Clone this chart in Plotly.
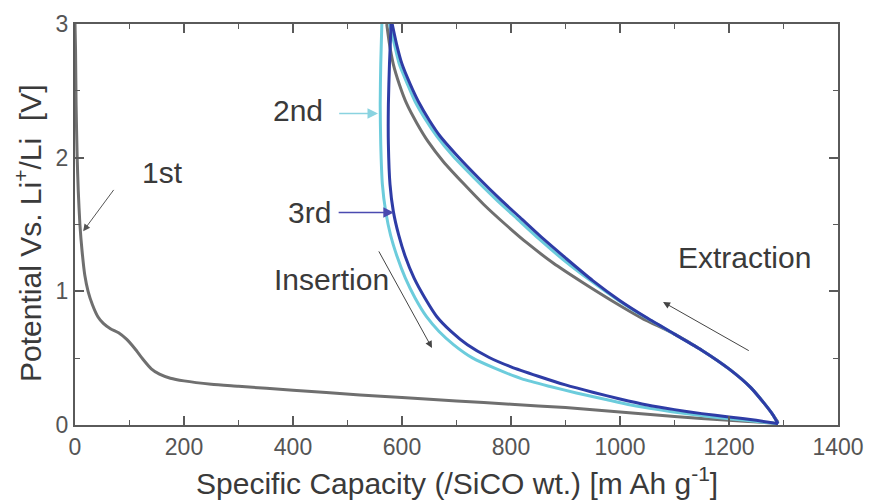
import plotly.graph_objects as go

# 1st cycle (gray)
ins1_x = [0, 1, 2, 4, 6, 9, 13, 18, 24, 32, 42, 52, 65, 80, 95, 110, 125, 140, 155, 175, 200, 250, 300, 400, 523, 600, 700, 800, 900, 1000, 1100, 1200, 1260, 1290]
ins1_y = [3.0, 2.8, 2.4, 2.0, 1.75, 1.5, 1.3, 1.12, 1.0, 0.9, 0.81, 0.76, 0.72, 0.69, 0.64, 0.57, 0.49, 0.42, 0.38, 0.35, 0.33, 0.305, 0.29, 0.26, 0.225, 0.205, 0.18, 0.155, 0.13, 0.097, 0.063, 0.035, 0.02, 0.01]
ext1_x = [1290, 1280, 1265, 1240, 1200, 1150, 1100, 1040, 985, 930, 878, 830, 790, 750, 712, 676, 648, 627, 609, 595, 584, 577, 572]
ext1_y = [0.02, 0.08, 0.16, 0.28, 0.42, 0.56, 0.68, 0.80, 0.93, 1.07, 1.21, 1.36, 1.50, 1.65, 1.81, 1.97, 2.12, 2.26, 2.40, 2.55, 2.70, 2.85, 3.0]

# 2nd cycle (cyan)
ins2_x = [563, 561, 560, 561, 564, 570, 579, 591, 606, 624, 645, 668, 695, 730, 770, 820, 870, 920, 970, 1020, 1070, 1120, 1170, 1230, 1290]
ins2_y = [3.0, 2.7, 2.4, 2.1, 1.8, 1.6, 1.42, 1.26, 1.1, 0.95, 0.81, 0.70, 0.60, 0.50, 0.425, 0.345, 0.29, 0.24, 0.195, 0.15, 0.115, 0.085, 0.06, 0.035, 0.01]
ext2_x = [1290, 1280, 1265, 1240, 1200, 1150, 1100, 1049, 998, 946, 895, 852, 812, 772, 732, 694, 664, 644, 624, 610, 595, 586, 577]
ext2_y = [0.01, 0.08, 0.16, 0.28, 0.42, 0.56, 0.68, 0.80, 0.93, 1.08, 1.24, 1.39, 1.54, 1.69, 1.85, 2.01, 2.16, 2.28, 2.42, 2.55, 2.70, 2.85, 3.0]

# 3rd cycle (blue)
ins3_x = [580, 577, 575, 575, 578, 584, 594, 606, 622, 642, 664, 690, 720, 760, 800, 850, 900, 950, 1000, 1050, 1100, 1150, 1200, 1250, 1290]
ins3_y = [3.0, 2.7, 2.4, 2.1, 1.8, 1.6, 1.42, 1.26, 1.1, 0.95, 0.81, 0.70, 0.60, 0.505, 0.435, 0.365, 0.30, 0.245, 0.195, 0.15, 0.115, 0.085, 0.06, 0.035, 0.01]
ext3_x = [1290, 1280, 1265, 1240, 1200, 1150, 1100, 1050, 1000, 950, 900, 860, 820, 780, 740, 700, 670, 650, 630, 615, 600, 590, 582]
ext3_y = [0.01, 0.08, 0.16, 0.28, 0.42, 0.56, 0.68, 0.80, 0.93, 1.08, 1.25, 1.39, 1.54, 1.69, 1.85, 2.02, 2.16, 2.28, 2.42, 2.55, 2.70, 2.85, 3.0]

x_ticks = [0, 200, 400, 600, 800, 1000, 1200, 1400]
y_ticks = [0, 1, 2, 3]

GRAY = "#6f6f6f"
CYAN = "#6cccdc"
BLUE = "#2e3ca6"
FONT = "Liberation Sans, Arial, sans-serif"

fig = go.Figure()
for xs, ys, c in [(ins1_x, ins1_y, GRAY), (ext1_x, ext1_y, GRAY),
                  (ins2_x, ins2_y, CYAN), (ext2_x, ext2_y, CYAN),
                  (ins3_x, ins3_y, BLUE), (ext3_x, ext3_y, BLUE)]:
    fig.add_trace(go.Scatter(x=xs, y=ys, mode="lines",
                             line=dict(color=c, width=3, shape="spline", smoothing=0.6),
                             showlegend=False, hoverinfo="skip"))

txt = dict(family=FONT, size=30, color="#3a3a3a")
fig.add_annotation(x=160, y=1.89, text="1st", showarrow=False, font=txt)
fig.add_annotation(x=409, y=2.35, text="2nd", showarrow=False, font=txt)
fig.add_annotation(x=431, y=1.59, text="3rd", showarrow=False, font=txt)
fig.add_annotation(x=471, y=1.09, text="Insertion", showarrow=False, font=txt)
fig.add_annotation(x=1228, y=1.25, text="Extraction", showarrow=False, font=txt)


def arrow(x0, y0, x1, y1, color, w=1.0):
    fig.add_annotation(x=x1, y=y1, ax=x0, ay=y0, xref="x", yref="y", axref="x", ayref="y",
                       text="", showarrow=True, arrowhead=2, arrowsize=1.4, arrowwidth=w,
                       arrowcolor=color)


arrow(73, 1.77, 15, 1.45, "#555555")
arrow(482, 2.33, 556, 2.33, "#8ad3e0", 1.5)
arrow(481, 1.59, 585, 1.59, "#4a4ab0", 1.5)
arrow(556, 1.31, 655, 0.576, "#444444")
arrow(1239, 0.55, 1079, 0.92, "#444444")

# axis titles
fig.add_annotation(xref="paper", yref="paper", x=0.5, y=-0.14, xanchor="center", yanchor="middle",
                   text="Specific Capacity (/SiCO wt.) [m Ah g<sup>-1</sup>]", showarrow=False,
                   font=dict(family=FONT, size=30, color="#3a3a3a"))
fig.add_annotation(xref="paper", yref="paper", x=-0.0616, y=0.479, xanchor="center", yanchor="middle",
                   textangle=-90,
                   text="Potential Vs. Li<sup>+</sup>/Li  [V]", showarrow=False,
                   font=dict(family=FONT, size=30, color="#3a3a3a"))

axis_common = dict(showline=True, linecolor="#5a5a5a", linewidth=2, mirror="allticks",
                   ticks="inside", ticklen=9, tickwidth=1.5, tickcolor="#5a5a5a",
                   showgrid=False, zeroline=False,
                   tickfont=dict(family=FONT, size=23, color="#555555"))

fig.update_xaxes(range=[0, 1400], tickvals=x_ticks, ticktext=[str(v) for v in x_ticks],
                 minor=dict(ticks="inside", dtick=100, ticklen=5, tickcolor="#5a5a5a", tickwidth=1.2),
                 **axis_common)
fig.update_yaxes(range=[0, 3], tickvals=y_ticks, ticktext=[str(v) for v in y_ticks],
                 minor=dict(ticks="inside", dtick=0.5, ticklen=5, tickcolor="#5a5a5a", tickwidth=1.2),
                 **axis_common)

fig.update_layout(width=871, height=500, margin=dict(l=75, r=33, t=24, b=75, autoexpand=False),
                  paper_bgcolor="white", plot_bgcolor="white")

fig.write_html("out.html")
